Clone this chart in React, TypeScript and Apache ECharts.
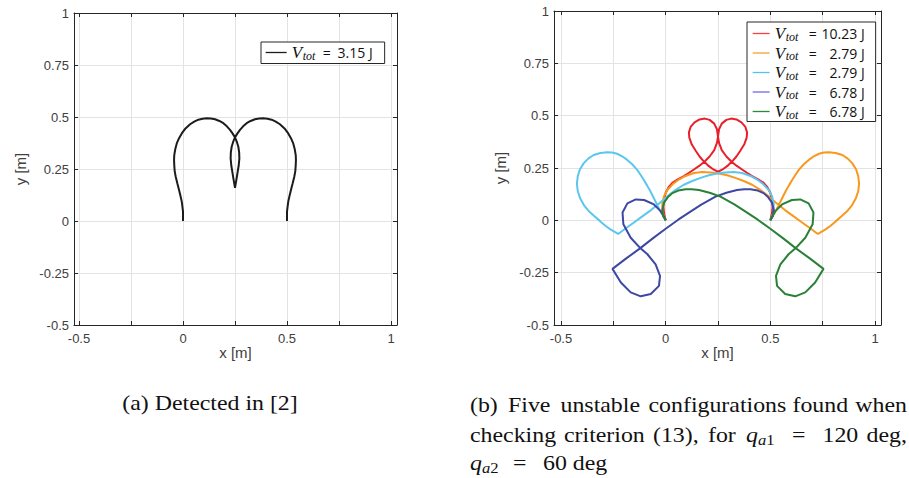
import React, { useEffect, useRef } from 'react';
import * as echarts from 'echarts';

// ---------------- data ----------------
const xRange = [-0.5, 1];
const yRange = [-0.5, 1];
const tickStep = 0.25;

const leftLabels = ['3.15 J'];
const rightLabels = ['10.23 J', '2.79 J', '2.79 J', '6.78 J', '6.78 J'];

const blackCurve: number[][] = [
  [0, 0], [0, 0.023], [0, 0.045], [-0.003, 0.07], [-0.006, 0.093], [-0.012, 0.12], [-0.019, 0.149],
  [-0.027, 0.18], [-0.035, 0.213], [-0.04, 0.24], [-0.042, 0.269], [-0.043, 0.293], [-0.042, 0.317],
  [-0.037, 0.346], [-0.03, 0.373], [-0.019, 0.398], [-0.006, 0.421], [0.012, 0.445], [0.034, 0.465],
  [0.054, 0.478], [0.074, 0.487], [0.094, 0.492], [0.114, 0.494], [0.134, 0.493], [0.154, 0.489],
  [0.175, 0.481], [0.194, 0.47], [0.211, 0.455], [0.226, 0.438], [0.239, 0.42], [0.25, 0.402],
  [0.259, 0.38], [0.266, 0.357], [0.27, 0.33], [0.271, 0.301], [0.268, 0.268], [0.263, 0.237],
  [0.257, 0.2], [0.25, 0.16],
  [0.243, 0.2], [0.237, 0.237], [0.232, 0.268], [0.229, 0.301], [0.23, 0.33], [0.234, 0.357],
  [0.241, 0.38], [0.25, 0.402], [0.261, 0.42], [0.274, 0.438], [0.289, 0.455], [0.306, 0.47],
  [0.325, 0.481], [0.346, 0.489], [0.366, 0.493], [0.386, 0.494], [0.406, 0.492], [0.426, 0.487],
  [0.446, 0.478], [0.466, 0.465], [0.488, 0.445], [0.506, 0.421], [0.519, 0.398], [0.53, 0.373],
  [0.537, 0.346], [0.542, 0.317], [0.543, 0.293], [0.542, 0.269], [0.54, 0.24], [0.535, 0.213],
  [0.527, 0.18], [0.519, 0.149], [0.512, 0.12], [0.506, 0.093], [0.503, 0.07], [0.5, 0.045],
  [0.5, 0.023], [0.5, 0],
];

const redCurve: number[][] = [
  [0, 0], [-0.008, 0.035], [-0.011, 0.068], [-0.006, 0.1], [0, 0.132], [0.014, 0.158], [0.032, 0.179],
  [0.058, 0.196], [0.087, 0.211], [0.11, 0.226], [0.135, 0.243], [0.16, 0.26], [0.185, 0.28],
  [0.21, 0.305], [0.232, 0.335], [0.245, 0.37], [0.25, 0.4], [0.255, 0.435], [0.268, 0.462],
  [0.29, 0.48], [0.313, 0.486], [0.338, 0.482], [0.362, 0.468], [0.38, 0.448], [0.389, 0.42],
  [0.387, 0.395], [0.375, 0.362], [0.355, 0.33], [0.338, 0.305], [0.318, 0.282], [0.295, 0.26],
  [0.272, 0.243], [0.25, 0.232], [0.228, 0.243], [0.205, 0.26], [0.182, 0.282], [0.162, 0.305],
  [0.145, 0.33], [0.125, 0.362], [0.113, 0.395], [0.111, 0.42], [0.12, 0.448], [0.138, 0.468],
  [0.162, 0.482], [0.187, 0.486], [0.21, 0.48], [0.232, 0.462], [0.245, 0.435], [0.25, 0.4],
  [0.255, 0.37], [0.268, 0.335], [0.29, 0.305], [0.315, 0.28], [0.34, 0.26], [0.365, 0.243],
  [0.39, 0.226], [0.413, 0.211], [0.442, 0.196], [0.468, 0.179], [0.486, 0.158], [0.5, 0.132],
  [0.506, 0.1], [0.511, 0.068], [0.508, 0.035], [0.5, 0],
];

const orangeCurve: number[][] = [
  [0.5, 0], [0.512, 0.022], [0.525, 0.043], [0.541, 0.075], [0.557, 0.107], [0.573, 0.139],
  [0.589, 0.167], [0.605, 0.194], [0.621, 0.219], [0.637, 0.242], [0.66, 0.268], [0.685, 0.29],
  [0.708, 0.306], [0.732, 0.318], [0.756, 0.324], [0.78, 0.325], [0.812, 0.322], [0.844, 0.312],
  [0.87, 0.295], [0.892, 0.272], [0.91, 0.243], [0.92, 0.21], [0.924, 0.175], [0.92, 0.14],
  [0.908, 0.104], [0.89, 0.072], [0.868, 0.045], [0.84, 0.019], [0.812, -0.005], [0.788, -0.026],
  [0.764, -0.043], [0.727, -0.065], [0.69, -0.038], [0.65, -0.009], [0.61, 0.02], [0.57, 0.049],
  [0.54, 0.073], [0.51, 0.098], [0.48, 0.124], [0.45, 0.147], [0.413, 0.17], [0.373, 0.188],
  [0.333, 0.203], [0.294, 0.215], [0.254, 0.224], [0.215, 0.229], [0.175, 0.231], [0.135, 0.226],
  [0.095, 0.212], [0.063, 0.195], [0.033, 0.172], [0.008, 0.145], [-0.008, 0.115], [-0.016, 0.08],
  [-0.016, 0.04], [0, 0],
];

const cyanCurve: number[][] = [
  [0, 0], [-0.012, 0.022], [-0.025, 0.043], [-0.041, 0.075], [-0.057, 0.107], [-0.073, 0.139],
  [-0.089, 0.167], [-0.105, 0.194], [-0.121, 0.219], [-0.137, 0.242], [-0.16, 0.268], [-0.185, 0.29],
  [-0.208, 0.306], [-0.232, 0.318], [-0.256, 0.324], [-0.28, 0.325], [-0.312, 0.322], [-0.344, 0.312],
  [-0.37, 0.295], [-0.392, 0.272], [-0.41, 0.243], [-0.42, 0.21], [-0.424, 0.175], [-0.42, 0.14],
  [-0.408, 0.104], [-0.39, 0.072], [-0.368, 0.045], [-0.34, 0.019], [-0.312, -0.005], [-0.288, -0.026],
  [-0.264, -0.043], [-0.227, -0.065], [-0.19, -0.038], [-0.15, -0.009], [-0.11, 0.02], [-0.07, 0.049],
  [-0.04, 0.073], [-0.01, 0.098], [0.02, 0.124], [0.05, 0.147], [0.087, 0.17], [0.127, 0.188],
  [0.167, 0.203], [0.206, 0.215], [0.246, 0.224], [0.285, 0.229], [0.325, 0.231], [0.365, 0.226],
  [0.405, 0.212], [0.437, 0.195], [0.467, 0.172], [0.492, 0.145], [0.508, 0.115], [0.516, 0.08],
  [0.516, 0.04], [0.5, 0],
];

const blueCurve: number[][] = [
  [0, 0], [-0.005, 0.013], [-0.024, 0.044], [-0.056, 0.076], [-0.103, 0.097], [-0.143, 0.1],
  [-0.183, 0.081], [-0.206, 0.037], [-0.202, -0.019], [-0.167, -0.083], [-0.119, -0.135],
  [-0.087, -0.162], [-0.048, -0.21], [-0.027, -0.265], [-0.032, -0.313], [-0.071, -0.352],
  [-0.119, -0.363], [-0.167, -0.344], [-0.214, -0.297], [-0.254, -0.232], [-0.19, -0.183],
  [-0.124, -0.135], [-0.06, -0.085], [0, -0.04], [0.06, 0.003], [0.111, 0.037], [0.17, 0.075],
  [0.238, 0.113], [0.29, 0.132], [0.341, 0.145], [0.375, 0.149], [0.405, 0.148], [0.44, 0.142],
  [0.468, 0.13], [0.49, 0.11], [0.508, 0.084], [0.516, 0.05], [0.512, 0.02], [0.5, 0],
];

const greenCurve: number[][] = [
  [0.5, 0], [0.505, 0.013], [0.524, 0.044], [0.556, 0.076], [0.603, 0.097], [0.643, 0.1],
  [0.683, 0.081], [0.706, 0.037], [0.702, -0.019], [0.667, -0.083], [0.619, -0.135],
  [0.587, -0.162], [0.548, -0.21], [0.527, -0.265], [0.532, -0.313], [0.571, -0.352],
  [0.619, -0.363], [0.667, -0.344], [0.714, -0.297], [0.754, -0.232], [0.69, -0.183],
  [0.624, -0.135], [0.56, -0.085], [0.5, -0.04], [0.44, 0.003], [0.389, 0.037], [0.33, 0.075],
  [0.262, 0.113], [0.21, 0.132], [0.159, 0.145], [0.125, 0.149], [0.095, 0.148], [0.06, 0.142],
  [0.032, 0.13], [0.01, 0.11], [-0.008, 0.084], [-0.016, 0.05], [-0.012, 0.02], [0, 0],
];

// ---------------- styles ----------------
const AX = '#262626';
const GRIDC = '#e3e3e3';
const LBL = '#404040';
const SANS = 'Liberation Sans, Arial, sans-serif';
const SERIF = 'Liberation Serif, Times New Roman, serif';
const LEG = 'Open Sans, Liberation Sans, sans-serif';

const leftSeries = [
  { name: 'vl1', data: blackCurve, color: '#1c1c1c', icon: '#1c1c1c', label: leftLabels[0] },
];
const rightSeries = [
  { name: 'vr1', data: redCurve, color: '#e8202a', icon: '#ff4040', label: rightLabels[0] },
  { name: 'vr2', data: orangeCurve, color: '#f7991e', icon: '#f7a030', label: rightLabels[1] },
  { name: 'vr3', data: cyanCurve, color: '#5bc7ee', icon: '#50c4f0', label: rightLabels[2] },
  { name: 'vr4', data: blueCurve, color: '#3d48a5', icon: '#6a6af0', label: rightLabels[3] },
  { name: 'vr5', data: greenCurve, color: '#2b8038', icon: '#2a8a3a', label: rightLabels[4] },
];

const labelMap: Record<string, string> = {};
[...leftSeries, ...rightSeries].forEach((s) => (labelMap[s.name] = s.label));

const xFmt = (v: number) => (Math.round(v * 4) % 2 === 0 ? String(v) : '');
const yFmt = (v: number) => String(v);

function frameX(gridIndex: number, position: string, name?: string) {
  return {
    gridIndex, type: 'value', min: 0, max: 1, position, z: 3,
    axisLine: { show: true, onZero: false, lineStyle: { color: AX, width: 1 } },
    axisTick: { show: false }, axisLabel: { show: false }, splitLine: { show: false },
    ...(name
      ? { name, nameLocation: 'middle', nameGap: 20, nameTextStyle: { color: LBL, fontSize: 15, fontFamily: SANS } }
      : {}),
  };
}
function dataX(gridIndex: number, position: string, labels: boolean) {
  return {
    gridIndex, type: 'value', min: xRange[0], max: xRange[1], interval: tickStep, position,
    axisLine: { show: false, onZero: false },
    axisTick: { show: true, inside: true, length: 4, lineStyle: { color: AX } },
    axisLabel: labels
      ? { show: true, margin: 7, formatter: xFmt, color: LBL, fontSize: 13, fontFamily: SANS, showMinLabel: true, showMaxLabel: true }
      : { show: false },
    splitLine: labels ? { show: true, lineStyle: { color: GRIDC, width: 1 } } : { show: false },
  };
}
function frameY(gridIndex: number, position: string, labels: boolean) {
  return {
    gridIndex, type: 'value', min: yRange[0], max: yRange[1], interval: tickStep, position, z: 3,
    axisLine: { show: true, onZero: false, lineStyle: { color: AX, width: 1 } },
    axisTick: { show: true, inside: true, length: 4, lineStyle: { color: AX } },
    axisLabel: labels
      ? { show: true, margin: 5, formatter: yFmt, color: LBL, fontSize: 13, fontFamily: SANS, showMinLabel: true, showMaxLabel: true }
      : { show: false },
    splitLine: labels
      ? { show: true, showMinLine: false, showMaxLine: false, lineStyle: { color: GRIDC, width: 1 } }
      : { show: false },
    ...(labels
      ? { name: 'y [m]', nameLocation: 'middle', nameGap: 46, nameTextStyle: { color: LBL, fontSize: 15, fontFamily: SANS } }
      : {}),
  };
}
function dataY(gridIndex: number) {
  return { gridIndex, type: 'value', min: yRange[0], max: yRange[1], show: false };
}

function richFor(sW: number, eW: number, nW: number) {
  return {
    v: { fontFamily: SERIF, fontStyle: 'italic', fontSize: 17, width: 11, lineHeight: 16, color: '#111' },
    s: { fontFamily: SERIF, fontStyle: 'italic', fontSize: 12, width: sW, padding: [6, 0, 0, 0], color: '#111' },
    e: { fontFamily: LEG, fontSize: 14, width: eW, lineHeight: 16, color: '#111' },
    n: { fontFamily: LEG, fontSize: 14, width: nW, align: 'right', lineHeight: 16, color: '#111' },
  };
}
const legendFmt = (name: string) => `{v|V}{s|tot}{e|=}{n|${labelMap[name]}}`;
const hiddenSymbol = { color: 'rgba(0,0,0,0)', borderColor: 'rgba(0,0,0,0)', borderWidth: 0, opacity: 0 };

const CAP_FS = 21.5;
const CAP_SX = 1.11;
function capText(text: string, x: number, y: number, align = 'left') {
  return {
    type: 'text', x, y, scaleX: CAP_SX, silent: true,
    style: { text, fontFamily: SERIF, fontSize: CAP_FS, fill: '#111', align, verticalAlign: 'middle' },
  };
}
function capQ(sub: string, x: number, y: number) {
  return {
    type: 'text', x, y, scaleX: CAP_SX, silent: true,
    style: {
      text: `{q|q}{a|a}{n|${sub}}`, align: 'left', verticalAlign: 'middle',
      rich: {
        q: { fontFamily: SERIF, fontStyle: 'italic', fontSize: CAP_FS, fill: '#111' },
        a: { fontFamily: SERIF, fontStyle: 'italic', fontSize: 15, fill: '#111', padding: [9, 0, 0, 0] },
        n: { fontFamily: SERIF, fontSize: 15, fill: '#111', padding: [9, 0, 0, 0] },
      },
    },
  };
}

export default function App() {
  const ref = useRef<HTMLDivElement>(null);
  useEffect(() => {
    if (!ref.current) return;
    const chart = echarts.init(ref.current, undefined, { renderer: 'svg' });
    const mkSeries = (s: any, xi: number, yi: number) => ({
      type: 'line', name: s.name, xAxisIndex: xi, yAxisIndex: yi, data: s.data,
      symbol: 'none', silent: true, z: 5,
      lineStyle: { color: s.color, width: 2 }, itemStyle: { color: s.color },
    });
    const legendItem = (s: any) => ({
      name: s.name,
      lineStyle: { color: s.icon, width: 1.3, opacity: 1 },
      itemStyle: hiddenSymbol,
    });
    chart.setOption({
      animation: false,
      backgroundColor: '#ffffff',
      grid: [
        { left: 74, top: 13, width: 323, height: 312 },
        { left: 79, top: 13, width: 312, height: 312 },
        { left: 554, top: 11, width: 327, height: 314 },
        { left: 561, top: 11, width: 314, height: 314 },
      ],
      xAxis: [
        frameX(0, 'bottom', 'x [m]'), frameX(0, 'top'),
        dataX(1, 'bottom', true), dataX(1, 'top', false),
        frameX(2, 'bottom', 'x [m]'), frameX(2, 'top'),
        dataX(3, 'bottom', true), dataX(3, 'top', false),
      ],
      yAxis: [
        frameY(0, 'left', true), frameY(0, 'right', false), dataY(1),
        frameY(2, 'left', true), frameY(2, 'right', false), dataY(3),
      ],
      legend: [
        {
          data: leftSeries.map(legendItem),
          left: 261, top: 42, orient: 'vertical', itemWidth: 21, itemHeight: 14, itemGap: 2,
          padding: [2, 12, 2, 4], borderColor: AX, borderWidth: 1, backgroundColor: '#fff',
          selectedMode: false, formatter: legendFmt, textStyle: { rich: richFor(20, 10, 40) },
        },
        {
          data: rightSeries.map(legendItem),
          left: 747, top: 22, orient: 'vertical', itemWidth: 17, itemHeight: 14, itemGap: 2,
          padding: [3, 11, 1, 5], borderColor: AX, borderWidth: 1, backgroundColor: '#fff',
          selectedMode: false, formatter: legendFmt, textStyle: { rich: richFor(23, 12, 44) },
        },
      ],
      series: [
        ...leftSeries.map((s) => mkSeries(s, 2, 2)),
        ...rightSeries.map((s) => mkSeries(s, 6, 5)),
      ],
      graphic: [
        capText('(a) Detected in [2]', 210, 403, 'center'),
        capText('(b)', 470, 405), capText('Five', 508, 405), capText('unstable', 560.5, 405),
        capText('configurations', 648.5, 405), capText('found', 792.5, 405), capText('when', 907, 405, 'right'),
        capText('checking', 470, 435), capText('criterion', 564, 435), capText('(13),', 653, 435),
        capText('for', 708, 435), capQ('1', 746, 435), capText('=', 792, 435),
        capText('120', 822.5, 435), capText('deg,', 907, 435, 'right'),
        capQ('2', 470, 463), capText('=', 513, 463), capText('60 deg', 543, 463),
      ],
    });
    return () => chart.dispose();
  }, []);
  return (
    <div
      ref={ref}
      style={{ position: 'fixed', left: 0, top: 0, width: 909, height: 478, background: '#fff' }}
    />
  );
}
